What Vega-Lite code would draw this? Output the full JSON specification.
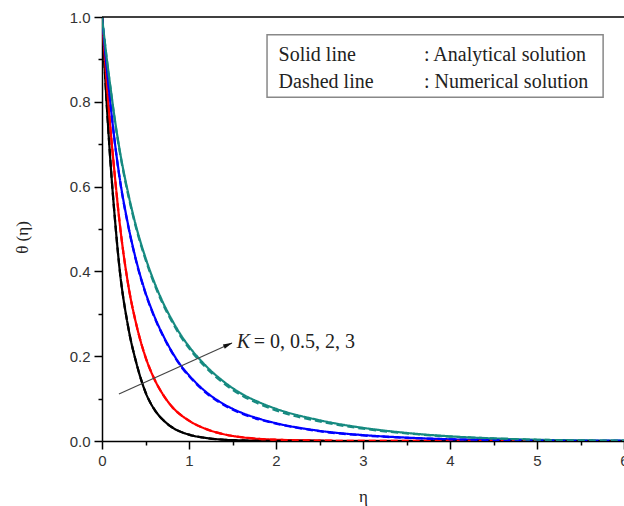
{
  "$schema": "https://vega.github.io/schema/vega-lite/v6.json",
  "width": 522,
  "height": 424,
  "autosize": {"type": "none"},
  "padding": {"left": 102, "top": 17, "right": 0, "bottom": 65},
  "background": "white",
  "config": {"view": {"stroke": null}},
  "datasets": {
    "curves": [
      {"eta": 0, "theta": 1, "K": "0", "type": "Analytical"},
      {"eta": 0.05, "theta": 0.81, "K": "0", "type": "Analytical"},
      {"eta": 0.1, "theta": 0.65, "K": "0", "type": "Analytical"},
      {"eta": 0.15, "theta": 0.52, "K": "0", "type": "Analytical"},
      {"eta": 0.2, "theta": 0.41, "K": "0", "type": "Analytical"},
      {"eta": 0.3, "theta": 0.27, "K": "0", "type": "Analytical"},
      {"eta": 0.4, "theta": 0.18, "K": "0", "type": "Analytical"},
      {"eta": 0.5, "theta": 0.115, "K": "0", "type": "Analytical"},
      {"eta": 0.6, "theta": 0.075, "K": "0", "type": "Analytical"},
      {"eta": 0.7, "theta": 0.05, "K": "0", "type": "Analytical"},
      {"eta": 0.8, "theta": 0.033, "K": "0", "type": "Analytical"},
      {"eta": 1.0, "theta": 0.015, "K": "0", "type": "Analytical"},
      {"eta": 1.2, "theta": 0.007, "K": "0", "type": "Analytical"},
      {"eta": 1.4, "theta": 0.003, "K": "0", "type": "Analytical"},
      {"eta": 1.6, "theta": 0.0015, "K": "0", "type": "Analytical"},
      {"eta": 2.0, "theta": 0.0003, "K": "0", "type": "Analytical"},
      {"eta": 3.0, "theta": 0, "K": "0", "type": "Analytical"},
      {"eta": 6.0, "theta": 0, "K": "0", "type": "Analytical"},

      {"eta": 0, "theta": 1, "K": "0.5", "type": "Analytical"},
      {"eta": 0.05, "theta": 0.855, "K": "0.5", "type": "Analytical"},
      {"eta": 0.1, "theta": 0.73, "K": "0.5", "type": "Analytical"},
      {"eta": 0.15, "theta": 0.62, "K": "0.5", "type": "Analytical"},
      {"eta": 0.2, "theta": 0.52, "K": "0.5", "type": "Analytical"},
      {"eta": 0.3, "theta": 0.37, "K": "0.5", "type": "Analytical"},
      {"eta": 0.4, "theta": 0.27, "K": "0.5", "type": "Analytical"},
      {"eta": 0.5, "theta": 0.198, "K": "0.5", "type": "Analytical"},
      {"eta": 0.6, "theta": 0.147, "K": "0.5", "type": "Analytical"},
      {"eta": 0.7, "theta": 0.11, "K": "0.5", "type": "Analytical"},
      {"eta": 0.8, "theta": 0.082, "K": "0.5", "type": "Analytical"},
      {"eta": 1.0, "theta": 0.048, "K": "0.5", "type": "Analytical"},
      {"eta": 1.2, "theta": 0.028, "K": "0.5", "type": "Analytical"},
      {"eta": 1.4, "theta": 0.016, "K": "0.5", "type": "Analytical"},
      {"eta": 1.6, "theta": 0.009, "K": "0.5", "type": "Analytical"},
      {"eta": 1.8, "theta": 0.005, "K": "0.5", "type": "Analytical"},
      {"eta": 2.0, "theta": 0.003, "K": "0.5", "type": "Analytical"},
      {"eta": 2.5, "theta": 0.001, "K": "0.5", "type": "Analytical"},
      {"eta": 3.0, "theta": 0.0003, "K": "0.5", "type": "Analytical"},
      {"eta": 6.0, "theta": 0, "K": "0.5", "type": "Analytical"},

      {"eta": 0, "theta": 1, "K": "2", "type": "Analytical"},
      {"eta": 0.05, "theta": 0.888, "K": "2", "type": "Analytical"},
      {"eta": 0.1, "theta": 0.79, "K": "2", "type": "Analytical"},
      {"eta": 0.15, "theta": 0.70, "K": "2", "type": "Analytical"},
      {"eta": 0.2, "theta": 0.625, "K": "2", "type": "Analytical"},
      {"eta": 0.3, "theta": 0.51, "K": "2", "type": "Analytical"},
      {"eta": 0.4, "theta": 0.42, "K": "2", "type": "Analytical"},
      {"eta": 0.5, "theta": 0.35, "K": "2", "type": "Analytical"},
      {"eta": 0.6, "theta": 0.295, "K": "2", "type": "Analytical"},
      {"eta": 0.7, "theta": 0.25, "K": "2", "type": "Analytical"},
      {"eta": 0.8, "theta": 0.212, "K": "2", "type": "Analytical"},
      {"eta": 0.9, "theta": 0.18, "K": "2", "type": "Analytical"},
      {"eta": 1.0, "theta": 0.155, "K": "2", "type": "Analytical"},
      {"eta": 1.2, "theta": 0.115, "K": "2", "type": "Analytical"},
      {"eta": 1.4, "theta": 0.087, "K": "2", "type": "Analytical"},
      {"eta": 1.6, "theta": 0.067, "K": "2", "type": "Analytical"},
      {"eta": 1.8, "theta": 0.053, "K": "2", "type": "Analytical"},
      {"eta": 2.0, "theta": 0.042, "K": "2", "type": "Analytical"},
      {"eta": 2.5, "theta": 0.024, "K": "2", "type": "Analytical"},
      {"eta": 3.0, "theta": 0.014, "K": "2", "type": "Analytical"},
      {"eta": 3.5, "theta": 0.008, "K": "2", "type": "Analytical"},
      {"eta": 4.0, "theta": 0.004, "K": "2", "type": "Analytical"},
      {"eta": 4.5, "theta": 0.002, "K": "2", "type": "Analytical"},
      {"eta": 5.0, "theta": 0.001, "K": "2", "type": "Analytical"},
      {"eta": 6.0, "theta": 0.0003, "K": "2", "type": "Analytical"},

      {"eta": 0, "theta": 1, "K": "3", "type": "Analytical"},
      {"eta": 0.05, "theta": 0.91, "K": "3", "type": "Analytical"},
      {"eta": 0.1, "theta": 0.83, "K": "3", "type": "Analytical"},
      {"eta": 0.15, "theta": 0.755, "K": "3", "type": "Analytical"},
      {"eta": 0.2, "theta": 0.69, "K": "3", "type": "Analytical"},
      {"eta": 0.3, "theta": 0.585, "K": "3", "type": "Analytical"},
      {"eta": 0.4, "theta": 0.5, "K": "3", "type": "Analytical"},
      {"eta": 0.5, "theta": 0.432, "K": "3", "type": "Analytical"},
      {"eta": 0.6, "theta": 0.375, "K": "3", "type": "Analytical"},
      {"eta": 0.7, "theta": 0.327, "K": "3", "type": "Analytical"},
      {"eta": 0.8, "theta": 0.287, "K": "3", "type": "Analytical"},
      {"eta": 0.9, "theta": 0.252, "K": "3", "type": "Analytical"},
      {"eta": 1.0, "theta": 0.223, "K": "3", "type": "Analytical"},
      {"eta": 1.2, "theta": 0.176, "K": "3", "type": "Analytical"},
      {"eta": 1.4, "theta": 0.14, "K": "3", "type": "Analytical"},
      {"eta": 1.6, "theta": 0.112, "K": "3", "type": "Analytical"},
      {"eta": 1.8, "theta": 0.092, "K": "3", "type": "Analytical"},
      {"eta": 2.0, "theta": 0.076, "K": "3", "type": "Analytical"},
      {"eta": 2.5, "theta": 0.049, "K": "3", "type": "Analytical"},
      {"eta": 3.0, "theta": 0.031, "K": "3", "type": "Analytical"},
      {"eta": 3.5, "theta": 0.019, "K": "3", "type": "Analytical"},
      {"eta": 4.0, "theta": 0.011, "K": "3", "type": "Analytical"},
      {"eta": 4.5, "theta": 0.006, "K": "3", "type": "Analytical"},
      {"eta": 5.0, "theta": 0.003, "K": "3", "type": "Analytical"},
      {"eta": 5.5, "theta": 0.0015, "K": "3", "type": "Analytical"},
      {"eta": 6.0, "theta": 0.0008, "K": "3", "type": "Analytical"},

      {"eta": 0, "theta": 1, "K": "0", "type": "Numerical"},
      {"eta": 0.05, "theta": 0.81, "K": "0", "type": "Numerical"},
      {"eta": 0.1, "theta": 0.65, "K": "0", "type": "Numerical"},
      {"eta": 0.15, "theta": 0.52, "K": "0", "type": "Numerical"},
      {"eta": 0.2, "theta": 0.41, "K": "0", "type": "Numerical"},
      {"eta": 0.3, "theta": 0.27, "K": "0", "type": "Numerical"},
      {"eta": 0.4, "theta": 0.18, "K": "0", "type": "Numerical"},
      {"eta": 0.5, "theta": 0.115, "K": "0", "type": "Numerical"},
      {"eta": 0.6, "theta": 0.075, "K": "0", "type": "Numerical"},
      {"eta": 0.7, "theta": 0.05, "K": "0", "type": "Numerical"},
      {"eta": 0.8, "theta": 0.033, "K": "0", "type": "Numerical"},
      {"eta": 1.0, "theta": 0.015, "K": "0", "type": "Numerical"},
      {"eta": 1.2, "theta": 0.007, "K": "0", "type": "Numerical"},
      {"eta": 1.4, "theta": 0.003, "K": "0", "type": "Numerical"},
      {"eta": 1.6, "theta": 0.0015, "K": "0", "type": "Numerical"},
      {"eta": 2.0, "theta": 0.0003, "K": "0", "type": "Numerical"},
      {"eta": 3.0, "theta": 0, "K": "0", "type": "Numerical"},
      {"eta": 6.0, "theta": 0, "K": "0", "type": "Numerical"},

      {"eta": 0, "theta": 1, "K": "0.5", "type": "Numerical"},
      {"eta": 0.05, "theta": 0.855, "K": "0.5", "type": "Numerical"},
      {"eta": 0.1, "theta": 0.73, "K": "0.5", "type": "Numerical"},
      {"eta": 0.15, "theta": 0.62, "K": "0.5", "type": "Numerical"},
      {"eta": 0.2, "theta": 0.52, "K": "0.5", "type": "Numerical"},
      {"eta": 0.3, "theta": 0.37, "K": "0.5", "type": "Numerical"},
      {"eta": 0.4, "theta": 0.27, "K": "0.5", "type": "Numerical"},
      {"eta": 0.5, "theta": 0.198, "K": "0.5", "type": "Numerical"},
      {"eta": 0.6, "theta": 0.147, "K": "0.5", "type": "Numerical"},
      {"eta": 0.7, "theta": 0.11, "K": "0.5", "type": "Numerical"},
      {"eta": 0.8, "theta": 0.082, "K": "0.5", "type": "Numerical"},
      {"eta": 1.0, "theta": 0.048, "K": "0.5", "type": "Numerical"},
      {"eta": 1.2, "theta": 0.028, "K": "0.5", "type": "Numerical"},
      {"eta": 1.4, "theta": 0.016, "K": "0.5", "type": "Numerical"},
      {"eta": 1.6, "theta": 0.009, "K": "0.5", "type": "Numerical"},
      {"eta": 1.8, "theta": 0.005, "K": "0.5", "type": "Numerical"},
      {"eta": 2.0, "theta": 0.003, "K": "0.5", "type": "Numerical"},
      {"eta": 2.5, "theta": 0.001, "K": "0.5", "type": "Numerical"},
      {"eta": 3.0, "theta": 0.0003, "K": "0.5", "type": "Numerical"},
      {"eta": 6.0, "theta": 0, "K": "0.5", "type": "Numerical"},

      {"eta": 0, "theta": 1, "K": "2", "type": "Numerical"},
      {"eta": 0.05, "theta": 0.887, "K": "2", "type": "Numerical"},
      {"eta": 0.1, "theta": 0.789, "K": "2", "type": "Numerical"},
      {"eta": 0.15, "theta": 0.699, "K": "2", "type": "Numerical"},
      {"eta": 0.2, "theta": 0.623, "K": "2", "type": "Numerical"},
      {"eta": 0.3, "theta": 0.508, "K": "2", "type": "Numerical"},
      {"eta": 0.4, "theta": 0.418, "K": "2", "type": "Numerical"},
      {"eta": 0.5, "theta": 0.348, "K": "2", "type": "Numerical"},
      {"eta": 0.6, "theta": 0.293, "K": "2", "type": "Numerical"},
      {"eta": 0.7, "theta": 0.248, "K": "2", "type": "Numerical"},
      {"eta": 0.8, "theta": 0.21, "K": "2", "type": "Numerical"},
      {"eta": 0.9, "theta": 0.178, "K": "2", "type": "Numerical"},
      {"eta": 1.0, "theta": 0.153, "K": "2", "type": "Numerical"},
      {"eta": 1.2, "theta": 0.113, "K": "2", "type": "Numerical"},
      {"eta": 1.4, "theta": 0.085, "K": "2", "type": "Numerical"},
      {"eta": 1.6, "theta": 0.065, "K": "2", "type": "Numerical"},
      {"eta": 1.8, "theta": 0.051, "K": "2", "type": "Numerical"},
      {"eta": 2.0, "theta": 0.041, "K": "2", "type": "Numerical"},
      {"eta": 2.5, "theta": 0.023, "K": "2", "type": "Numerical"},
      {"eta": 3.0, "theta": 0.013, "K": "2", "type": "Numerical"},
      {"eta": 3.5, "theta": 0.0075, "K": "2", "type": "Numerical"},
      {"eta": 4.0, "theta": 0.004, "K": "2", "type": "Numerical"},
      {"eta": 4.5, "theta": 0.002, "K": "2", "type": "Numerical"},
      {"eta": 5.0, "theta": 0.001, "K": "2", "type": "Numerical"},
      {"eta": 6.0, "theta": 0.0003, "K": "2", "type": "Numerical"},

      {"eta": 0, "theta": 1, "K": "3", "type": "Numerical"},
      {"eta": 0.05, "theta": 0.909, "K": "3", "type": "Numerical"},
      {"eta": 0.1, "theta": 0.828, "K": "3", "type": "Numerical"},
      {"eta": 0.15, "theta": 0.752, "K": "3", "type": "Numerical"},
      {"eta": 0.2, "theta": 0.687, "K": "3", "type": "Numerical"},
      {"eta": 0.3, "theta": 0.581, "K": "3", "type": "Numerical"},
      {"eta": 0.4, "theta": 0.496, "K": "3", "type": "Numerical"},
      {"eta": 0.5, "theta": 0.428, "K": "3", "type": "Numerical"},
      {"eta": 0.6, "theta": 0.371, "K": "3", "type": "Numerical"},
      {"eta": 0.7, "theta": 0.323, "K": "3", "type": "Numerical"},
      {"eta": 0.8, "theta": 0.283, "K": "3", "type": "Numerical"},
      {"eta": 0.9, "theta": 0.248, "K": "3", "type": "Numerical"},
      {"eta": 1.0, "theta": 0.219, "K": "3", "type": "Numerical"},
      {"eta": 1.2, "theta": 0.172, "K": "3", "type": "Numerical"},
      {"eta": 1.4, "theta": 0.136, "K": "3", "type": "Numerical"},
      {"eta": 1.6, "theta": 0.108, "K": "3", "type": "Numerical"},
      {"eta": 1.8, "theta": 0.088, "K": "3", "type": "Numerical"},
      {"eta": 2.0, "theta": 0.072, "K": "3", "type": "Numerical"},
      {"eta": 2.5, "theta": 0.046, "K": "3", "type": "Numerical"},
      {"eta": 3.0, "theta": 0.029, "K": "3", "type": "Numerical"},
      {"eta": 3.5, "theta": 0.018, "K": "3", "type": "Numerical"},
      {"eta": 4.0, "theta": 0.0105, "K": "3", "type": "Numerical"},
      {"eta": 4.5, "theta": 0.006, "K": "3", "type": "Numerical"},
      {"eta": 5.0, "theta": 0.003, "K": "3", "type": "Numerical"},
      {"eta": 5.5, "theta": 0.0015, "K": "3", "type": "Numerical"},
      {"eta": 6.0, "theta": 0.0008, "K": "3", "type": "Numerical"}
    ],
    "box": [{"eta": 1.897, "eta2": 5.76, "theta": 0.958, "theta2": 0.811}],
    "boxtext": [
      {"eta": 2.03, "theta": 0.897, "label": "Solid line"},
      {"eta": 2.03, "theta": 0.833, "label": "Dashed line"},
      {"eta": 3.7, "theta": 0.897, "label": ": Analytical solution"},
      {"eta": 3.7, "theta": 0.833, "label": ": Numerical solution"}
    ],
    "arrow": [{"eta": 0.195, "theta": 0.111, "eta2": 1.494, "theta2": 0.231}],
    "arrowhead": [{"eta": 1.45, "theta": 0.227}],
    "ktext": [{"eta": 1.55, "theta": 0.22, "label": "K"}],
    "kvals": [{"eta": 1.745, "theta": 0.22, "label": "= 0, 0.5, 2, 3"}]
  },
  "layer": [
    {
      "data": {"name": "curves"},
      "mark": {"type": "line", "strokeWidth": 2.2, "interpolate": "monotone", "clip": true},
      "encoding": {
        "x": {
          "field": "eta", "type": "quantitative",
          "scale": {"domain": [0, 6], "nice": false, "zero": false},
          "axis": {
            "title": "η",
            "values": [0, 0.5, 1, 1.5, 2, 2.5, 3, 3.5, 4, 4.5, 5, 5.5, 6],
            "labelExpr": "datum.value % 1 == 0 ? format(datum.value, 'd') : ''",
            "tickSize": {"condition": {"test": "datum.value % 1 == 0", "value": 8}, "value": 4},
            "grid": false,
            "domainColor": "#000", "domainWidth": 1.5,
            "tickColor": "#000", "tickWidth": 1.5,
            "labelFont": "Liberation Sans", "labelFontSize": 15, "labelColor": "#333",
            "labelPadding": 4, "labelFlush": false,
            "titleFont": "Liberation Serif", "titleFontSize": 17, "titleFontWeight": "normal",
            "titleColor": "#222", "titlePadding": 20
          }
        },
        "y": {
          "field": "theta", "type": "quantitative",
          "scale": {"domain": [0, 1], "nice": false, "zero": false},
          "axis": {
            "title": "θ (η)",
            "values": [0, 0.1, 0.2, 0.3, 0.4, 0.5, 0.6, 0.7, 0.8, 0.9, 1.0],
            "labelExpr": "round(datum.value * 10) % 2 == 0 ? format(datum.value, '.1f') : ''",
            "tickSize": {"condition": {"test": "round(datum.value * 10) % 2 == 0", "value": 8}, "value": 4},
            "grid": false,
            "domainColor": "#000", "domainWidth": 1.5,
            "tickColor": "#000", "tickWidth": 1.5,
            "labelFont": "Liberation Sans", "labelFontSize": 15, "labelColor": "#333",
            "labelPadding": 4, "labelFlush": false,
            "titleFont": "Liberation Serif", "titleFontSize": 17, "titleFontWeight": "normal",
            "titleColor": "#222", "titlePadding": 38, "titleY": 220
          }
        },
        "color": {
          "field": "K", "type": "nominal",
          "scale": {"domain": ["0", "0.5", "2", "3"], "range": ["#000000", "#ff0000", "#0000ff", "#168a80"]},
          "legend": null
        },
        "strokeDash": {
          "field": "type", "type": "nominal",
          "scale": {"domain": ["Analytical", "Numerical"], "range": [[1, 0], [7, 4]]},
          "legend": null
        },
        "detail": {"field": "type"}
      }
    },
    {
      "data": {"values": [{"v": 1}]},
      "mark": {"type": "rule", "color": "#000", "strokeWidth": 1.5},
      "encoding": {"y": {"datum": 1, "type": "quantitative"}}
    },
    {
      "data": {"name": "box"},
      "mark": {"type": "rect", "fill": "white", "stroke": "#888", "strokeWidth": 1.5},
      "encoding": {
        "x": {"field": "eta", "type": "quantitative"},
        "x2": {"field": "eta2"},
        "y": {"field": "theta", "type": "quantitative"},
        "y2": {"field": "theta2"}
      }
    },
    {
      "data": {"name": "boxtext"},
      "mark": {"type": "text", "align": "left", "baseline": "alphabetic", "font": "Liberation Serif", "fontSize": 20, "color": "#222"},
      "encoding": {
        "x": {"field": "eta", "type": "quantitative"},
        "y": {"field": "theta", "type": "quantitative"},
        "text": {"field": "label"}
      }
    },
    {
      "data": {"name": "arrow"},
      "mark": {"type": "rule", "color": "#444", "strokeWidth": 1.2},
      "encoding": {
        "x": {"field": "eta", "type": "quantitative"},
        "y": {"field": "theta", "type": "quantitative"},
        "x2": {"field": "eta2"},
        "y2": {"field": "theta2"}
      }
    },
    {
      "data": {"name": "arrowhead"},
      "mark": {"type": "point", "shape": "M1,0L-1,-0.5L-1,0.5Z", "filled": true, "color": "#111", "opacity": 1, "size": 90, "angle": 335.8},
      "encoding": {
        "x": {"field": "eta", "type": "quantitative"},
        "y": {"field": "theta", "type": "quantitative"}
      }
    },
    {
      "data": {"name": "ktext"},
      "mark": {"type": "text", "align": "left", "baseline": "alphabetic", "font": "Liberation Serif", "fontSize": 20, "fontStyle": "italic", "color": "#222"},
      "encoding": {
        "x": {"field": "eta", "type": "quantitative"},
        "y": {"field": "theta", "type": "quantitative"},
        "text": {"field": "label"}
      }
    },
    {
      "data": {"name": "kvals"},
      "mark": {"type": "text", "align": "left", "baseline": "alphabetic", "font": "Liberation Serif", "fontSize": 20, "color": "#222"},
      "encoding": {
        "x": {"field": "eta", "type": "quantitative"},
        "y": {"field": "theta", "type": "quantitative"},
        "text": {"field": "label"}
      }
    }
  ]
}
